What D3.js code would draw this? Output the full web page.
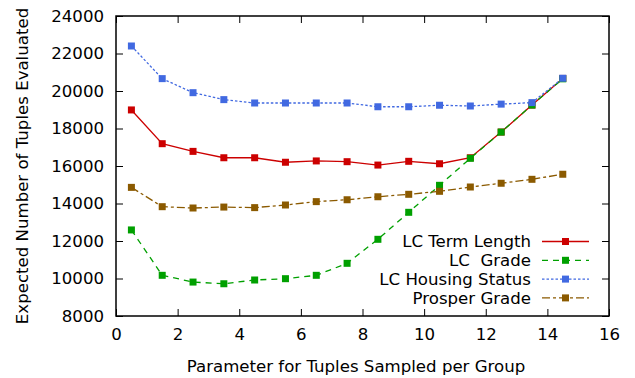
<!DOCTYPE html>
<html>
<head>
<meta charset="utf-8">
<script src="https://cdn.jsdelivr.net/npm/d3@7"></script>
<style>
body { margin: 0; background: #fff; }
text { font-family: "DejaVu Sans", sans-serif; fill: #000; white-space: pre; }
</style>
</head>
<body>
<svg id="chart"></svg>
<script>
var width = 635;
var height = 378;

// x positions of the samples (parameter values)
var xValues = [0.5, 1.5, 2.5, 3.5, 4.5, 5.5, 6.5, 7.5, 8.5, 9.5, 10.5, 11.5, 12.5, 13.5, 14.5];

var termLength = [18990, 17190, 16780, 16440, 16440, 16200, 16270, 16230, 16050, 16250, 16120, 16440, 17810, 19250, 20670];
var lcGrade = [12590, 10170, 9810, 9720, 9920, 9990, 10170, 10810, 12090, 13530, 14970, 16410, 17810, 19250, 20650];
var housingStatus = [22400, 20660, 19910, 19540, 19360, 19360, 19360, 19360, 19160, 19160, 19240, 19200, 19300, 19380, 20680];
var prosperGrade = [14860, 13830, 13760, 13810, 13780, 13920, 14100, 14200, 14360, 14490, 14650, 14880, 15080, 15290, 15560];

var seriesNames = ["LC Term Length", "LC  Grade", "LC Housing Status", "Prosper Grade"];
var seriesValues = [termLength, lcGrade, housingStatus, prosperGrade];
var seriesColors = ["#cc0000", "#00a000", "#4169e1", "#8b5a00"];
var seriesDash = [null, "6,5", "2.5,2", "8,3,3,3"];

var xTicks = [0, 2, 4, 6, 8, 10, 12, 14, 16];
var yTicks = [8000, 10000, 12000, 14000, 16000, 18000, 20000, 22000, 24000];

var pLeft = 116, pRight = 609, pTop = 16, pBottom = 316;
var fontSize = 16.6;

var svg = d3.select('#chart')
    .attr('width', width)
    .attr('height', height);

var x = d3.scaleLinear().domain([0, 16]).range([pLeft, pRight]);
var y = d3.scaleLinear().domain([8000, 24000]).range([pBottom, pTop]);

// axes with inward ticks on all four sides
svg.append('g')
    .attr('transform', 'translate(0,' + pBottom + ')')
    .call(d3.axisBottom(x).tickValues(xTicks).tickSize(-7).tickPadding(12).tickFormat(d3.format('d')))
    .call(function(g){ g.select('.domain').remove(); });
svg.append('g')
    .attr('transform', 'translate(0,' + pTop + ')')
    .call(d3.axisTop(x).tickValues(xTicks).tickSize(-7).tickFormat(''))
    .call(function(g){ g.select('.domain').remove(); });
svg.append('g')
    .attr('transform', 'translate(' + pLeft + ',0)')
    .call(d3.axisLeft(y).tickValues(yTicks).tickSize(-7).tickPadding(12).tickFormat(d3.format('d')))
    .call(function(g){ g.select('.domain').remove(); });
svg.append('g')
    .attr('transform', 'translate(' + pRight + ',0)')
    .call(d3.axisRight(y).tickValues(yTicks).tickSize(-7).tickFormat(''))
    .call(function(g){ g.select('.domain').remove(); });

svg.selectAll('.tick line').attr('stroke', '#000').attr('stroke-width', 1);
svg.selectAll('.tick text').attr('font-size', fontSize).attr('font-family', '"DejaVu Sans", sans-serif').attr('fill', '#000');

svg.append('rect')
    .attr('x', pLeft).attr('y', pTop)
    .attr('width', pRight - pLeft).attr('height', pBottom - pTop)
    .attr('fill', 'none').attr('stroke', '#000').attr('stroke-width', 1.5);

var line = d3.line()
    .x(function(d, i){ return x(xValues[i]); })
    .y(function(d){ return y(d); });

for (var s = 0; s < seriesValues.length; s++) {
    svg.append('path')
        .datum(seriesValues[s])
        .attr('d', line)
        .attr('fill', 'none')
        .attr('stroke', seriesColors[s])
        .attr('stroke-width', 1.3)
        .attr('stroke-dasharray', seriesDash[s]);
    svg.selectAll(null)
        .data(seriesValues[s])
        .enter().append('rect')
        .attr('x', function(d, i){ return x(xValues[i]) - 3.5; })
        .attr('y', function(d){ return y(d) - 3.5; })
        .attr('width', 7).attr('height', 7)
        .attr('fill', seriesColors[s]);
}

// legend
for (var k = 0; k < seriesNames.length; k++) {
    var ly = 241.5 + k * 18.8;
    svg.append('text')
        .attr('x', 531).attr('y', ly)
        .attr('dy', '0.35em')
        .attr('text-anchor', 'end')
        .attr('font-size', fontSize)
        .text(seriesNames[k]);
    svg.append('line')
        .attr('x1', 542).attr('x2', 589)
        .attr('y1', ly).attr('y2', ly)
        .attr('stroke', seriesColors[k])
        .attr('stroke-width', 1.3)
        .attr('stroke-dasharray', seriesDash[k]);
    svg.append('rect')
        .attr('x', 562).attr('y', ly - 3.5)
        .attr('width', 7).attr('height', 7)
        .attr('fill', seriesColors[k]);
}

svg.append('text')
    .attr('x', 356).attr('y', 366)
    .attr('dy', '0.35em')
    .attr('text-anchor', 'middle')
    .attr('font-size', fontSize)
    .text('Parameter for Tuples Sampled per Group');

svg.append('text')
    .attr('transform', 'translate(22,' + ((pTop + pBottom) / 2) + ') rotate(-90)')
    .attr('dy', '0.35em')
    .attr('text-anchor', 'middle')
    .attr('font-size', fontSize)
    .text('Expected Number of Tuples Evaluated');
</script>
</body>
</html>
